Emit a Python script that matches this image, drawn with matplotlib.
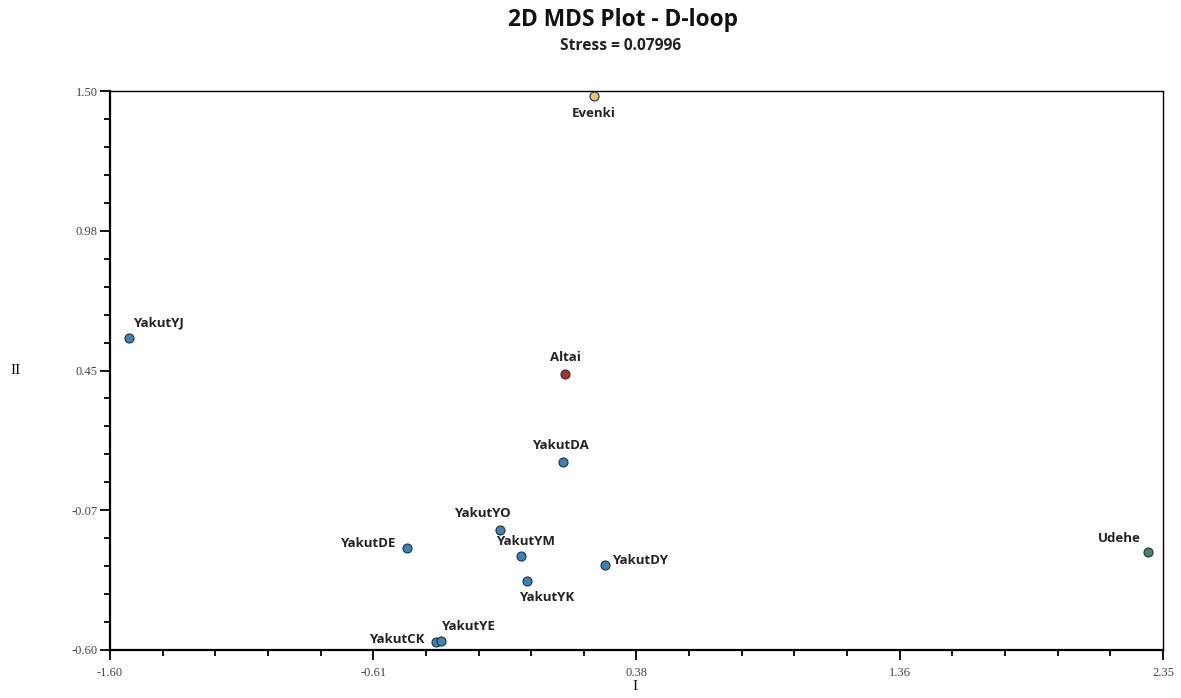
import matplotlib
matplotlib.use("Agg")
import matplotlib.pyplot as plt
from matplotlib.ticker import FixedLocator, AutoMinorLocator

# Data
names = ["Evenki", "YakutYJ", "Altai", "YakutDA", "YakutYO", "YakutDE", "YakutYM",
         "YakutDY", "YakutYK", "YakutCK", "YakutYE", "Udehe"]
dim1 = [0.216, -1.529, 0.107, 0.099, -0.137, -0.486, -0.058, 0.257, -0.036, -0.377, -0.358, 2.294]
dim2 = [1.481, 0.572, 0.437, 0.106, -0.149, -0.217, -0.247, -0.281, -0.341, -0.570, -0.566, -0.232]
groups = ["Evenki", "Yakut", "Altai", "Yakut", "Yakut", "Yakut", "Yakut",
          "Yakut", "Yakut", "Yakut", "Yakut", "Udehe"]
xticks = [-1.60, -0.6125, 0.375, 1.3625, 2.35]
xticklabels = ["-1.60", "-0.61", "0.38", "1.36", "2.35"]
yticks = [-0.60, -0.075, 0.45, 0.975, 1.50]
yticklabels = ["-0.60", "-0.07", "0.45", "0.98", "1.50"]

colors = {"Evenki": "#e9c46a", "Yakut": "#3d82b4", "Altai": "#a83232", "Udehe": "#3c8a5c"}
# label offsets in points (dx, dy, ha, va)
offsets = {
    "Evenki": (0, -8, "center", "top"),
    "YakutYJ": (3, 6, "left", "bottom"),
    "Altai": (0, 7, "center", "bottom"),
    "YakutDA": (-2, 7, "center", "bottom"),
    "YakutYO": (-13, 7, "center", "bottom"),
    "YakutDE": (-8, 3, "right", "center"),
    "YakutYM": (-18, 6, "left", "bottom"),
    "YakutDY": (5, 3, "left", "center"),
    "YakutYK": (-6, -7, "left", "top"),
    "YakutCK": (-8, 2, "right", "center"),
    "YakutYE": (0, 6, "left", "bottom"),
    "Udehe": (-5, 5, "right", "bottom"),
}

fig = plt.figure(figsize=(11.81, 6.98), dpi=100)
ax = fig.add_axes([110/1181, 1-650/698, 1053/1181, 559/698])

for n, x, y, g in zip(names, dim1, dim2, groups):
    ax.scatter([x], [y], s=42, color=colors[g], edgecolor="#1f2f3f", linewidth=0.8, zorder=3, clip_on=False)
    dx, dy, ha, va = offsets[n]
    ax.annotate(n, (x, y), xytext=(dx, dy), textcoords="offset points", ha=ha, va=va,
                fontsize=9.5, fontweight="bold", family="Open Sans", color="#222222")

ax.set_xlim(-1.60, 2.35)
ax.set_ylim(-0.60, 1.50)
ax.xaxis.set_major_locator(FixedLocator(xticks))
ax.yaxis.set_major_locator(FixedLocator(yticks))
ax.set_xticklabels(xticklabels, family="Liberation Serif", fontsize=9, color="#444444")
ax.set_yticklabels(yticklabels, family="Liberation Serif", fontsize=9, color="#444444")
ax.xaxis.set_minor_locator(AutoMinorLocator(5))
ax.yaxis.set_minor_locator(AutoMinorLocator(5))
ax.tick_params(which="major", direction="out", length=7, width=1.3, pad=2)
ax.tick_params(axis="x", which="major", pad=5)
ax.tick_params(which="minor", direction="out", length=4, width=1.3)
for s in ["left", "bottom"]:
    ax.spines[s].set_linewidth(1.6)
for s in ["top", "right"]:
    ax.spines[s].set_linewidth(1.0)

fig.text(635/1181, 1-687/698, "I", family="Liberation Serif", fontsize=11, ha="center", va="center")
fig.text(16/1181, 1-370/698, "II", family="Liberation Serif", fontsize=11, ha="center", va="center")

fig.text(623/1181, 1-20/698, "2D MDS Plot - D-loop", ha="center", va="center",
         fontsize=16.4, fontweight="bold", family="Open Sans", color="#111111")
fig.text(621/1181, 1-46/698, "Stress = 0.07996", ha="center", va="center",
         fontsize=11.2, fontweight="bold", family="Open Sans", color="#222222")

fig.savefig("out.png", dpi=100)
